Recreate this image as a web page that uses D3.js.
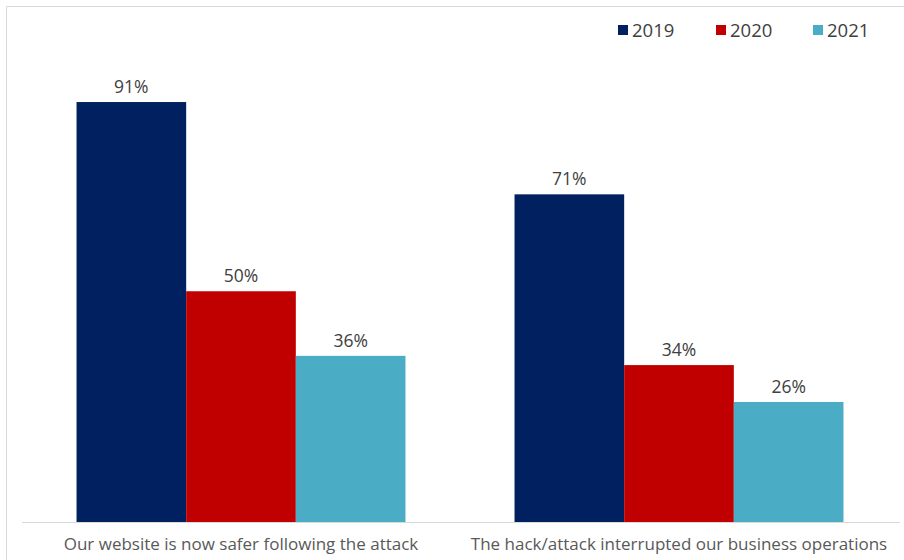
<!DOCTYPE html>
<html><head><meta charset="utf-8">
<script src="https://cdn.jsdelivr.net/npm/d3@7"></script>
<style>body{margin:0;background:#fff}svg{display:block}</style>
</head><body>
<script>
const categories = ["Our website is now safer following the attack", "The hack/attack interrupted our business operations"];
const years = ["2019", "2020", "2021"];
const values2019 = [91, 71];
const values2020 = [50, 34];
const values2021 = [36, 26];
const colors = ["#002060", "#C00000", "#4BACC6"];

const series = [values2019, values2020, values2021];
const W = 904, H = 560;
const svg = d3.select("body").append("svg").attr("width", W).attr("height", H);
const font = "'Open Sans', Arial, sans-serif";

// frame
svg.append("path").attr("d", `M6.5,${H} L6.5,6.5 L${W},6.5`).attr("fill","none").attr("stroke","#d9d9d9").attr("stroke-width",1);

const x0 = d3.scaleBand().domain(categories).range([22, 898]).paddingInner(0.249).paddingOuter(0.1245);
const x1 = d3.scaleBand().domain(years).range([0, x0.bandwidth()]);
const y = d3.scaleLinear().domain([0, 100]).range([522, 60.5]);

const g = svg.append("g");
categories.forEach((c, ci) => {
  years.forEach((yr, si) => {
    const v = series[si][ci];
    g.append("rect")
      .attr("x", x0(c) + x1(yr)).attr("y", y(v))
      .attr("width", x1.bandwidth()).attr("height", y(0) - y(v))
      .attr("fill", colors[si]);
    g.append("text")
      .attr("x", x0(c) + x1(yr) + x1.bandwidth()/2).attr("y", y(v) - 9)
      .attr("text-anchor","middle").attr("font-family", font).attr("font-size", 17.5)
      .attr("fill","#404040").text(v + "%");
  });
});

// baseline axis
const xAxis = d3.axisBottom(x0).tickSize(0).tickPadding(16);
const ax = svg.append("g").attr("transform", `translate(0,${y(0)})`).call(xAxis);
ax.select(".domain").attr("stroke","#d9d9d9").attr("d", "M22,0.5H900");
ax.selectAll("text").attr("font-family", font).attr("font-size", 17).attr("fill","#595959");

// legend
const legX = [618, 716, 813];
years.forEach((yr, i) => {
  const lg = svg.append("g").attr("transform", `translate(${legX[i]},0)`);
  lg.append("rect").attr("x",0).attr("y",25).attr("width",10).attr("height",10).attr("fill",colors[i]);
  lg.append("text").attr("x",14).attr("y",36.5).attr("font-family",font).attr("font-size",18.5).attr("fill","#404040").text(yr);
});
</script>
</body></html>
